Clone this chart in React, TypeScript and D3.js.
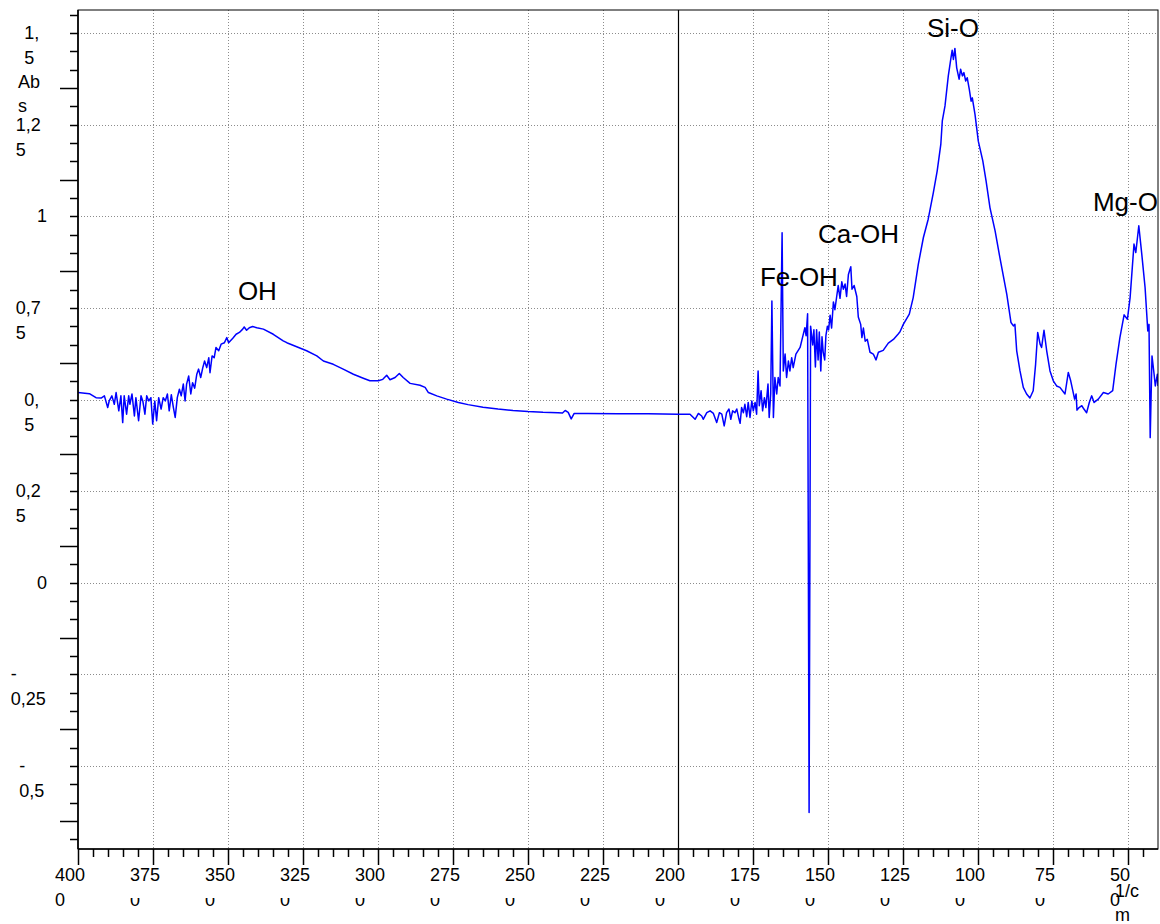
import React from "react";
import * as d3 from "d3";

// IR spectrum, [wavenumber 1/cm, absorbance]
const spectrum: [number, number][] = [
  [4000, 0.519], [3962, 0.516], [3940, 0.505], [3923, 0.504], [3912, 0.51], [3901, 0.478], [3896, 0.496],
  [3887, 0.51], [3879, 0.487], [3873, 0.519], [3864, 0.469], [3857, 0.51], [3851, 0.437], [3846, 0.51],
  [3838, 0.46], [3831, 0.51], [3827, 0.487], [3820, 0.515], [3812, 0.455], [3807, 0.505], [3798, 0.442],
  [3790, 0.51], [3784, 0.496], [3777, 0.46], [3771, 0.51], [3764, 0.496], [3757, 0.505], [3751, 0.433],
  [3744, 0.496], [3738, 0.442], [3731, 0.505], [3723, 0.474], [3716, 0.505], [3709, 0.496], [3702, 0.515],
  [3696, 0.469], [3689, 0.513], [3682, 0.478], [3676, 0.451], [3669, 0.505], [3662, 0.528], [3656, 0.51],
  [3649, 0.542], [3643, 0.496], [3638, 0.542], [3631, 0.564], [3624, 0.515], [3618, 0.546], [3611, 0.531],
  [3604, 0.569], [3598, 0.583], [3591, 0.56], [3584, 0.587], [3578, 0.605], [3571, 0.587], [3564, 0.614],
  [3560, 0.573], [3553, 0.619], [3546, 0.614], [3540, 0.642], [3531, 0.633], [3523, 0.651], [3512, 0.655],
  [3504, 0.669], [3498, 0.655], [3484, 0.667], [3473, 0.678], [3462, 0.683], [3451, 0.692], [3446, 0.698],
  [3438, 0.689], [3429, 0.696], [3418, 0.699], [3404, 0.696],
  [3382, 0.692], [3349, 0.678], [3316, 0.66], [3304, 0.655], [3271, 0.644], [3238, 0.633], [3204, 0.619],
  [3182, 0.605], [3149, 0.596], [3116, 0.583], [3082, 0.569], [3049, 0.558], [3027, 0.551], [2999, 0.551],
  [2984, 0.555], [2971, 0.566], [2960, 0.554], [2943, 0.56], [2929, 0.571], [2916, 0.56], [2893, 0.544],
  [2860, 0.539], [2843, 0.533], [2832, 0.519], [2804, 0.51], [2771, 0.501], [2732, 0.492], [2700, 0.486],
  [2650, 0.479], [2600, 0.474], [2550, 0.47], [2500, 0.467], [2450, 0.465], [2400, 0.464], [2385, 0.463],
  [2376, 0.47], [2366, 0.465], [2356, 0.447], [2346, 0.462], [2300, 0.462], [2200, 0.461], [2100, 0.461],
  [2000, 0.46],
  [1960, 0.46], [1943, 0.446], [1932, 0.462], [1921, 0.455], [1916, 0.446], [1904, 0.464], [1893, 0.469],
  [1882, 0.462], [1871, 0.437], [1862, 0.464], [1854, 0.46], [1846, 0.428], [1838, 0.464], [1830, 0.474],
  [1824, 0.446], [1818, 0.469], [1810, 0.464], [1804, 0.474], [1798, 0.451], [1793, 0.435], [1788, 0.478],
  [1782, 0.464], [1777, 0.487], [1771, 0.453], [1766, 0.492], [1760, 0.451], [1754, 0.496], [1749, 0.469],
  [1743, 0.492], [1738, 0.46], [1733, 0.578], [1729, 0.483], [1723, 0.524], [1718, 0.469], [1712, 0.505],
  [1707, 0.478], [1700, 0.542], [1696, 0.451], [1691, 0.515], [1687, 0.769], [1682, 0.451], [1677, 0.56],
  [1671, 0.515], [1666, 0.56], [1660, 0.537], [1653, 0.955], [1649, 0.578], [1643, 0.624], [1638, 0.56],
  [1632, 0.605], [1627, 0.578], [1621, 0.614], [1616, 0.587], [1607, 0.624], [1593, 0.642], [1577, 0.696],
  [1573, 0.674], [1568, 0.734], [1563, -0.627],
  [1558, 0.7], [1551, 0.649], [1547, 0.69], [1542, 0.589], [1538, 0.69], [1533, 0.608], [1529, 0.684],
  [1524, 0.578], [1520, 0.671], [1516, 0.629], [1511, 0.608], [1507, 0.674], [1502, 0.7], [1498, 0.69],
  [1493, 0.73], [1488, 0.695], [1482, 0.766], [1477, 0.745], [1471, 0.781], [1466, 0.811], [1460, 0.776],
  [1454, 0.821], [1449, 0.801], [1443, 0.815], [1438, 0.781], [1432, 0.841], [1424, 0.862], [1420, 0.801],
  [1413, 0.811], [1404, 0.781], [1399, 0.725], [1391, 0.705], [1387, 0.669], [1382, 0.695], [1376, 0.659],
  [1369, 0.664], [1360, 0.629], [1349, 0.624], [1340, 0.608], [1332, 0.629], [1316, 0.634], [1299, 0.654],
  [1282, 0.664], [1266, 0.679],
  [1260, 0.685], [1249, 0.705], [1229, 0.733], [1216, 0.778], [1199, 0.869], [1182, 0.942], [1166, 0.992],
  [1149, 1.064], [1136, 1.124], [1124, 1.196], [1119, 1.26], [1110, 1.301], [1099, 1.383], [1090, 1.433],
  [1086, 1.453], [1082, 1.428], [1077, 1.458], [1071, 1.405], [1063, 1.374], [1058, 1.401], [1052, 1.383],
  [1047, 1.392], [1041, 1.369], [1036, 1.378], [1029, 1.346], [1023, 1.314], [1019, 1.323], [1010, 1.278],
  [999, 1.205], [984, 1.151], [973, 1.096], [960, 1.023], [943, 0.96], [927, 0.887], [904, 0.787],
  [890, 0.71], [882, 0.701], [877, 0.705], [871, 0.633], [860, 0.578], [849, 0.533], [838, 0.515],
  [827, 0.504], [816, 0.524], [808, 0.596], [801, 0.683], [793, 0.651], [788, 0.642], [780, 0.689],
  [771, 0.633], [760, 0.578], [749, 0.551], [738, 0.537], [727, 0.533], [710, 0.515], [699, 0.574],
  [691, 0.551], [684, 0.524], [678, 0.501], [673, 0.515], [670, 0.471], [663, 0.478], [654, 0.483],
  [647, 0.474], [638, 0.464], [629, 0.492], [621, 0.51], [613, 0.492], [599, 0.501], [582, 0.519],
  [566, 0.515], [551, 0.524], [540, 0.596], [527, 0.669], [513, 0.731], [502, 0.719], [493, 0.778],
  [480, 0.924], [474, 0.901], [464, 0.974], [454, 0.896], [443, 0.805], [434, 0.687], [430, 0.705],
  [426, 0.396], [420, 0.619], [413, 0.569], [409, 0.537], [402, 0.569], [400, 0.537],
];

const xMajor = [4000, 3750, 3500, 3250, 3000, 2750, 2500, 2250, 2000, 1750, 1500, 1250, 1000, 750, 500];
const xLabels = [
  ["400", "0"], ["375", "0"], ["350", "0"], ["325", "0"], ["300", "0"], ["275", "0"], ["250", "0"],
  ["225", "0"], ["200", "0"], ["175", "0"], ["150", "0"], ["125", "0"], ["100", "0"], ["75", "0"], ["50", "0"],
];
const yMajor = [1.5, 1.25, 1, 0.75, 0.5, 0.25, 0, -0.25, -0.5];
const yLabels = [
  ["1,", "5"], ["1,2", "5"], ["1"], ["0,7", "5"], ["0,", "5"], ["0,2", "5"], ["0"], ["-", "0,25"], ["-", "0,5"],
];
const yTitle = ["Ab", "s"];
const xUnit = ["1/c", "m"];
const peaks = [
  { label: "OH", wn: 3467, abs: 0.772 },
  { label: "Fe-OH", wn: 1727, abs: 0.81 },
  { label: "Ca-OH", wn: 1533, abs: 0.928 },
  { label: "Si-O", wn: 1170, abs: 1.49 },
  { label: "Mg-O", wn: 617, abs: 1.015 },
];

const W = 1160;
const H = 924;
const left = 78, right = 1158, top = 10, bottom = 849;
const FS = 18;
const font = "'Liberation Sans', Arial, sans-serif";

// rough Arial widths, good enough to place the wrapped labels
const textW = (s: string) =>
  s.split("").reduce((a, c) => a + (c === "," ? 0.278 : c === "-" ? 0.333 : 0.556), 0) * FS;

const App = () => {
  const x = d3.scaleLinear().domain([4000, 400]).range([left, right]);
  const y = d3.scaleLinear().domain([-0.7265, 1.5628]).range([bottom, top]);

  const line = d3.line<[number, number]>()
    .x(d => x(d[0]))
    .y(d => y(d[1]));

  const xTicks = d3.range(4000, 400, -50);
  const yTicks = d3.range(-14, 32).map(i => i * 0.05);

  return (
    <svg width={W} height={H} style={{ position: "absolute", left: 0, top: 0, background: "#fff" }}
      fontFamily={font}>
      <defs>
        <clipPath id="plot">
          <rect x={left} y={top} width={right - left} height={bottom - top} />
        </clipPath>
        <clipPath id="cut0">
          <rect x={0} y={898} width={W} height={H - 898} />
        </clipPath>
      </defs>
      <rect width={W} height={H} fill="#fff" />

      {/* grid */}
      <g stroke="#8c8c8c" strokeWidth={1} strokeDasharray="1,2">
        {yMajor.map(v => (
          <line key={"gy" + v} x1={left} x2={right} y1={Math.round(y(v)) + 0.5} y2={Math.round(y(v)) + 0.5} />
        ))}
        {xMajor.filter(v => v !== 4000 && v !== 2000).map(v => (
          <line key={"gx" + v} y1={top} y2={bottom} x1={Math.round(x(v)) + 0.5} x2={Math.round(x(v)) + 0.5} />
        ))}
      </g>
      <line x1={Math.round(x(2000)) + 0.5} x2={Math.round(x(2000)) + 0.5} y1={top} y2={bottom} stroke="#000" strokeWidth={1.2} />

      {/* spectrum */}
      <path d={line(spectrum) || ""} fill="none" stroke="#0000ff" strokeWidth={1.5}
        strokeLinejoin="round" clipPath="url(#plot)" />

      {/* frame */}
      <rect x={left} y={top} width={right - left} height={bottom - top} fill="none" stroke="#000" strokeWidth={1} />
      <line x1={left} x2={left} y1={top} y2={bottom} stroke="#000" strokeWidth={1.6} />
      <line x1={left} x2={right} y1={bottom} y2={bottom} stroke="#000" strokeWidth={1.6} />

      {/* ticks */}
      <g stroke="#000" strokeWidth={1.5}>
        {yTicks.map((v, i) => {
          const major = (i + 14) % 5 === 0;
          const yy = Math.round(y(v)) + 0.5;
          return <line key={"ty" + i} x1={left - (major ? 18 : 8)} x2={left} y1={yy} y2={yy} />;
        })}
        {xTicks.map(v => {
          const major = v % 250 === 0;
          const xx = Math.round(x(v)) + 0.5;
          return <line key={"tx" + v} x1={xx} x2={xx} y1={bottom} y2={bottom + (major ? 16 : 8)} />;
        })}
      </g>

      {/* y labels, wrapped like the original */}
      <g fontSize={FS} fill="#000">
        {yMajor.map((v, i) => {
          const lines = yLabels[i];
          const sx = 45.5 - 0.85 * textW(lines.join(""));
          const by = y(v) + 6;
          return lines.map((s, j) => (
            <text key={"ly" + i + j} x={sx} y={by + j * 25}>{s}</text>
          ));
        })}
        {yTitle.map((s, j) => (
          <text key={"yt" + j} x={18} y={88 + j * 24}>{s}</text>
        ))}
      </g>

      {/* x labels */}
      <g fontSize={FS} fill="#000">
        {xMajor.map((v, i) => {
          const [a, b] = xLabels[i];
          const sx = x(v) - textW(a + b) / 2 - 3;
          const cut = i > 0 && i < xMajor.length - 1;
          return (
            <g key={"lx" + v}>
              <text x={sx} y={881}>{a}</text>
              <text x={sx} y={906} clipPath={cut ? "url(#cut0)" : undefined}>{b}</text>
            </g>
          );
        })}
        {xUnit.map((s, j) => (
          <text key={"xu" + j} x={1115} y={897 + j * 24}>{s}</text>
        ))}
      </g>

      {/* peak names */}
      <g fontSize={26} fill="#000" clipPath="url(#plot)">
        {peaks.map(p => (
          <text key={p.label} x={x(p.wn)} y={y(p.abs)}>{p.label}</text>
        ))}
      </g>
    </svg>
  );
};

export default App;
